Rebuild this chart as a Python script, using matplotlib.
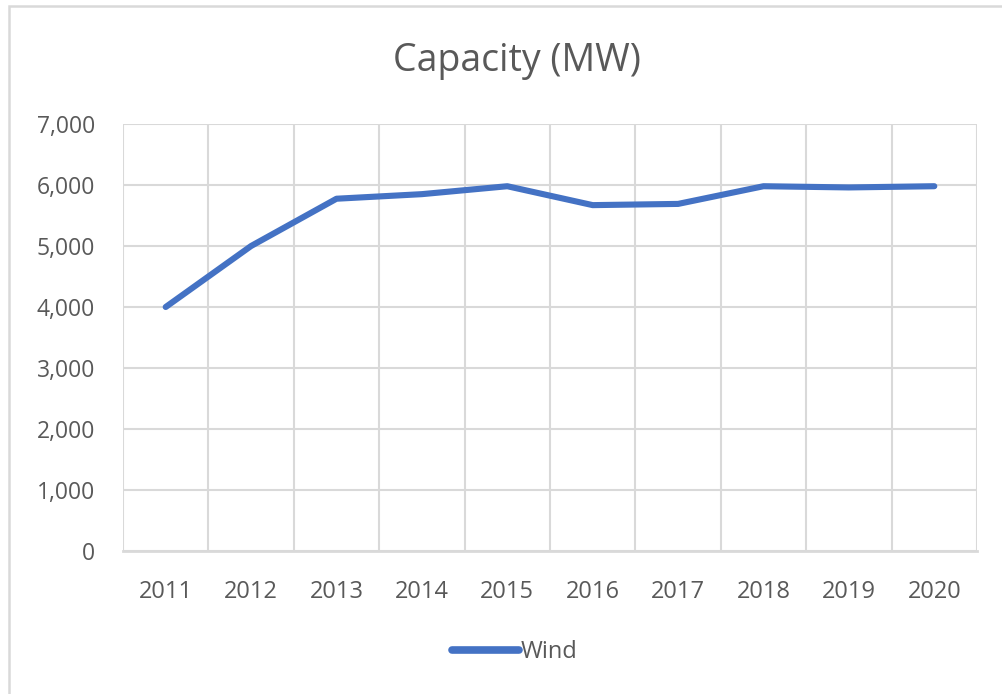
import matplotlib
matplotlib.use("Agg")
import matplotlib.pyplot as plt
from matplotlib.patches import Rectangle
from matplotlib.ticker import FuncFormatter, MultipleLocator

# data
years = ["2011", "2012", "2013", "2014", "2015", "2016", "2017", "2018", "2019", "2020"]
wind = [4000, 5000, 5775, 5850, 5980, 5670, 5690, 5980, 5960, 5980]

W, H = 1002, 694
grey = "#595959"
grid_col = "#d9d9d9"
blue = "#4472C4"

plt.rcParams["font.family"] = ["Open Sans", "DejaVu Sans"]

fig = plt.figure(figsize=(W / 100, H / 100), dpi=100)

# chart area border (cropped at the right and bottom)
fig.patches.append(Rectangle((9 / W, -0.1), 1.2, (H - 6) / H + 0.1,
                             transform=fig.transFigure, fill=False,
                             edgecolor=grid_col, linewidth=1.8, clip_on=False))

ax = fig.add_axes([123 / W, (H - 551) / H, (977 - 123) / W, (551 - 124) / H])
x = [i + 0.5 for i in range(len(years))]
ax.plot(x, wind, color=blue, linewidth=4.4, solid_capstyle="round",
        solid_joinstyle="round", label="Wind", zorder=3)

ax.set_xlim(0, len(years))
ax.set_ylim(0, 7000)
ax.set_xticks(x)
ax.set_xticklabels(years)
ax.xaxis.set_minor_locator(MultipleLocator(1))
ax.yaxis.set_major_locator(MultipleLocator(1000))
ax.yaxis.set_major_formatter(FuncFormatter(lambda v, p: f"{int(v):,}"))

ax.grid(True, which="major", axis="y", color=grid_col, linewidth=1.5)
ax.grid(True, which="minor", axis="x", color=grid_col, linewidth=1.5)
ax.set_axisbelow(True)
for s in ["top", "right", "left"]:
    ax.spines[s].set_visible(False)
ax.spines["bottom"].set_color(grid_col)
ax.spines["bottom"].set_linewidth(2)
ax.tick_params(which="both", length=0)
ax.tick_params(axis="x", pad=21, labelsize=17, labelcolor=grey)
ax.tick_params(axis="y", pad=20, labelsize=16.5, labelcolor=grey)

fig.text(517 / W, 1 - 61 / H, "Capacity (MW)", ha="center", va="center",
         fontsize=27, color=grey)

leg = fig.legend(loc="center", bbox_to_anchor=(515 / W, 1 - 652 / H), frameon=False,
                 fontsize=17, handlelength=2.8, handletextpad=0.1)
for t in leg.get_texts():
    t.set_color(grey)
for h in leg.get_lines():
    h.set_linewidth(5.5)

fig.savefig("out.png", dpi=100)
